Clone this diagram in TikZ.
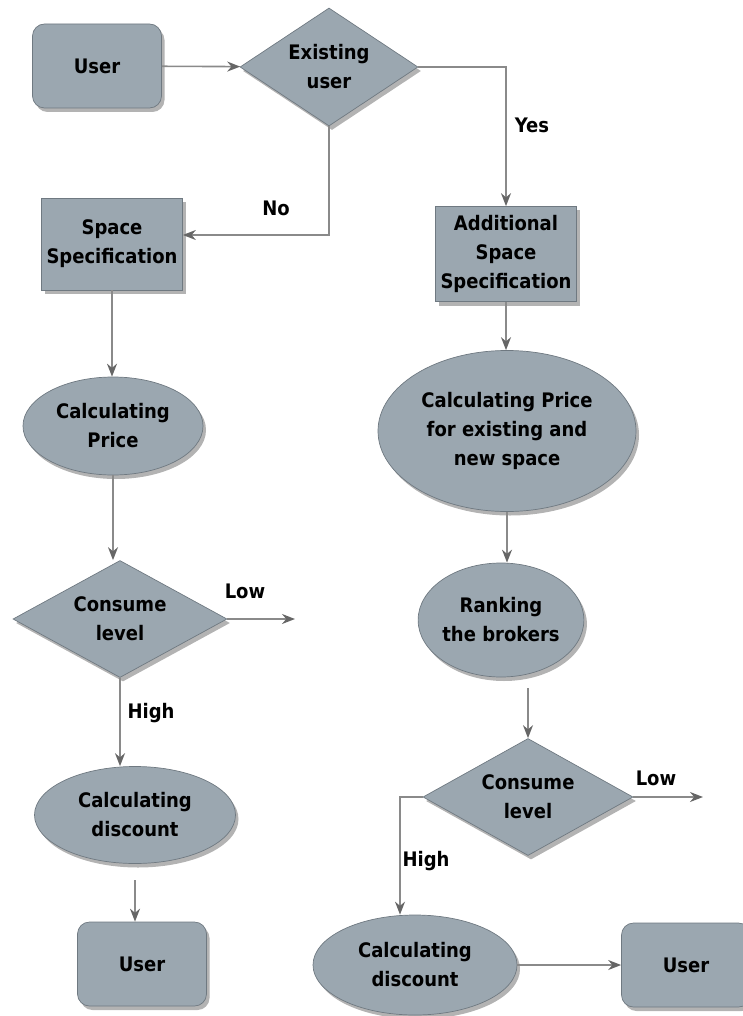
\documentclass[tikz,border=0pt]{standalone}
\usepackage{fontspec}
\setmainfont{DejaVu Sans Condensed}
\usetikzlibrary{shapes.geometric,arrows.meta,shadows}

\definecolor{boxfill}{HTML}{9BA7B0}
\definecolor{boxline}{HTML}{6F7981}
\definecolor{linegray}{HTML}{8A8A8A}
\definecolor{tipgray}{HTML}{666666}

\tikzset{
  base/.style={draw=boxline, line width=0.7pt, fill=boxfill, align=center,
    font=\bfseries\fontsize{20}{29}\selectfont,
    drop shadow={shadow xshift=3pt, shadow yshift=-4pt, opacity=0.6}},
  userbox/.style={base, rectangle, rounded corners=12pt, minimum width=129pt, minimum height=84pt},
  specbox/.style={base, rectangle, minimum width=141pt, inner sep=2pt},
  oval/.style={base, ellipse, inner sep=0pt},
  choice/.style={base, diamond, inner sep=0pt, aspect=1.6},
  lbl/.style={font=\bfseries\fontsize{20}{22}\selectfont},
  flow/.style={draw=linegray, line width=1.6pt, -{Stealth[length=13pt,width=10pt,color=tipgray,fill=tipgray]}}
}

\begin{document}
\begin{tikzpicture}[x=1pt,y=-1pt]

	\useasboundingbox (0,0) rectangle (742,1016);

	% top row
	\node [userbox] (U1) at (97,66) {User};
	\node [choice, minimum width=178pt, minimum height=118pt] (E) at (329,67) {Existing\\user};

	% new user branch
	\node [specbox, minimum height=92pt] (S) at (112,244) {Space\\Specification};
	\node [oval, minimum width=180pt, minimum height=98pt] (P) at (113,426) {Calculating\\Price};
	\node [choice, minimum width=214pt, minimum height=117pt] (C) at (120,619) {Consume\\level};
	\node [oval, minimum width=201pt, minimum height=97pt] (D) at (135,815) {Calculating\\discount};
	\node [userbox] (U2) at (142,964) {User};

	% existing user branch
	\node [specbox, minimum height=95pt] (AS) at (506,254) {Additional\\Space\\Specification};
	\node [oval, minimum width=258pt, minimum height=161pt] (AP) at (507,431) {Calculating Price\\for existing and\\new space};
	\node [oval, minimum width=152pt, minimum height=114pt] (R) at (501,620) {Ranking\\the brokers};
	\node [choice, minimum width=210pt, minimum height=117pt] (AC) at (528,797) {Consume\\level};
	\node [oval, minimum width=204pt, minimum height=100pt] (AD) at (415,965) {Calculating\\discount};
	\node [userbox] (U3) at (686,965) {User};

	% loose ends
	\coordinate (L1) at (295,619);
	\coordinate (L2) at (703,797);
	\coordinate (D0) at (135,880);
	\coordinate (R0) at (528,688);

	% labels
	\node [lbl] (yes) at (532,125) {Yes};
	\node [lbl] (no) at (276,208) {No};
	\node [lbl] (low1) at (245,591) {Low};
	\node [lbl] (high1) at (151,713) {High};
	\node [lbl] (low2) at (656,778) {Low};
	\node [lbl] (high2) at (426,861) {High};

	% connectors
	\draw [flow] (U1) -- (E);
	\draw [flow] (E.east) -| (AS.north);
	\draw [flow] (E.south) |- ([yshift=9pt]S.east);
	\draw [flow] (S.south) -- (S.south |- P.north);
	\draw [flow] (P.south) -- (P.south |- C.north);
	\draw [flow] (C.east) -- (C.east -| L1);
	\draw [flow] (C.south) -- (C.south |- D.north);
	\draw [flow] (D0) -- (D0 |- U2.north);
	\draw [flow] (AS.south) -- (AS.south |- AP.north);
	\draw [flow] (AP.south) -- (AP.south |- R.north);
	\draw [flow] (R0) -- (AC.north);
	\draw [flow] (AC.east) -- (AC.east -| L2);
	\draw [flow] (AC.west) -| ([xshift=-15pt]AD.north);
	\draw [flow] (AD.east) -- (U3.west);

\end{tikzpicture}
\end{document}
